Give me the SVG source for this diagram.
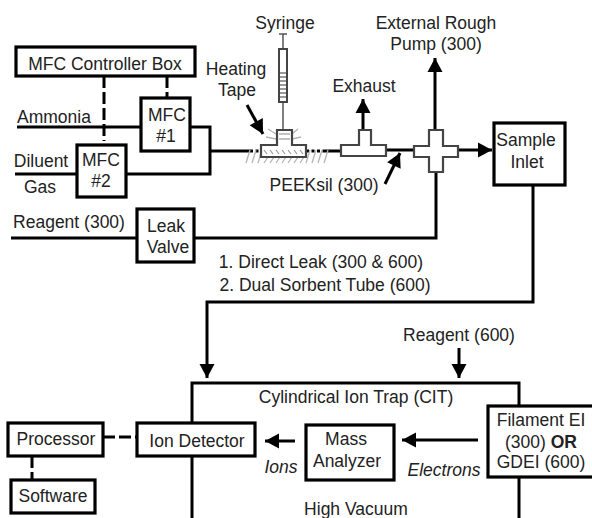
<svg xmlns="http://www.w3.org/2000/svg" width="592" height="518" viewBox="0 0 592 518">
<defs>
<marker id="ah" markerUnits="userSpaceOnUse" markerWidth="16" markerHeight="16" refX="15" refY="8" orient="auto"><path d="M1 0.5L15 8L1 15.500Z" fill="#000"/></marker>
</defs>
<style>
text{font-family:"Liberation Sans",Arial,sans-serif;font-size:17.5px;fill:#222;text-anchor:middle}
.b{fill:#fff;stroke:#000;stroke-width:3.200}
.l{fill:none;stroke:#000;stroke-width:3}
.d{fill:none;stroke:#000;stroke-width:3;stroke-dasharray:12 4}
.s{fill:none;stroke:#000;stroke-width:3;stroke-dasharray:3 2.500}
.a{marker-end:url(#ah)}
.f{fill:#fff;stroke:#444;stroke-width:2.200}
.g{fill:none;stroke:#b4b4b4;stroke-width:1.300}
.i{font-style:italic}
</style>
<rect width="592" height="518" fill="#fff"/>
<g id="connectors">
<path class="d" d="M104 76V141M167 76V98"/>
<path class="l" d="M17 127H141M15 174H77M190 127H210V174H126M210 151H250M11 238H137M194 238H436V172"/>
<path class="l" d="M386 150H414M325 151H341"/>
<path class="s" d="M250 151H262M306 151H325"/>
<path class="l a" d="M435 130V58"/>
<path class="l a" d="M363 130V99"/>
<path class="l a" d="M458 150H492"/>
<path class="l a" d="M385 184L400 153"/>
<path class="l a" d="M247 105L263 134"/>
<path class="l a" d="M533 185V302H207V378"/>
<path class="l a" d="M459 348V378"/>
<path class="l a" d="M295 441H265"/>
<path class="l a" d="M478 440H402"/>
<path class="d" d="M103 437H137M32 456V480"/>
</g>
<g id="syringe">
<path d="M283 34V130M279 34H287" fill="none" stroke="#555" stroke-width="1.500"/>
<rect x="279" y="49" width="8" height="53" fill="#fff" stroke="#444" stroke-width="2"/>
<path d="M280 73H286M280 77H286M280 81H286M280 85H286M280 89H286M280 93H286M280 97H286" stroke="#777" stroke-width="1.500"/>
<path class="g" d="M246 163L250 150M252 163L256 150M258 163L262 150M264 163L268 157M270 163L274 157M276 163L280 157M282 163L286 157M288 163L292 157M294 163L298 157M300 163L304 157M306 163L310 150M312 163L316 150M318 163L322 150M324 163L328 150M268 129L276 134M266 137L276 139M298 129L292 134M301 137L292 139"/>
<path class="f" d="M261 145H277V130H292V145H306V157H261Z"/>
<path d="M264 150L267 154M270 150L273 154M276 150L279 154M282 150L285 154M288 150L291 154M294 150L297 154M300 150L303 154" stroke="#999" stroke-width="1.200"/>
<path d="M279 134H290M279 139H290" stroke="#888" stroke-width="1.200"/>
</g>
<g id="mfc-box"><rect class="b" x="16" y="47" width="179" height="29"/><text x="105" y="70">MFC Controller Box</text></g>
<g id="mfc1"><rect class="b" x="141" y="98" width="49" height="53"/><text x="167" y="121">MFC</text><text x="166" y="142">#1</text></g>
<g id="mfc2"><rect class="b" x="77" y="145" width="49" height="52"/><text x="101" y="166">MFC</text><text x="101" y="187">#2</text></g>
<g id="leak"><rect class="b" x="137" y="209" width="57" height="53"/><text x="166" y="232">Leak</text><text x="168" y="253">Valve</text></g>
<g id="tee"><path class="f" d="M341 145H359V130H371V145H386V156H341Z"/></g>
<g id="cross"><path class="f" d="M414 146H429V130H443V146H458V157H443V172H429V157H414Z"/></g>
<g id="inlet"><rect class="b" x="494" y="123" width="71" height="62"/><text x="526" y="146">Sample</text><text x="527" y="168">Inlet</text></g>
<g id="cit"><path class="l" d="M192 518V383H519V518"/></g>
<g id="ion"><rect class="b" x="137" y="423" width="118" height="33"/><text x="197" y="447">Ion Detector</text></g>
<g id="proc"><rect class="b" x="8" y="423" width="95" height="33"/><text x="56" y="445">Processor</text></g>
<g id="soft"><rect class="b" x="11" y="480" width="84" height="33"/><text x="53" y="502">Software</text></g>
<g id="mass"><rect class="b" x="306" y="425" width="88" height="55"/><text x="346" y="445">Mass</text><text x="347" y="467">Analyzer</text></g>
<g id="fil"><rect class="b" x="488" y="406" width="110" height="71"/><text x="541" y="426">Filament EI</text><text x="541" y="448">(300) <tspan font-weight="bold">OR</tspan></text><text x="541" y="468">GDEI (600)</text></g>
<g id="labels">
<text x="285" y="29">Syringe</text>
<text x="236" y="75">Heating</text><text x="237" y="96">Tape</text>
<text x="436" y="29">External Rough</text><text x="436" y="50">Pump (300)</text>
<text x="364" y="92">Exhaust</text>
<text x="54" y="123">Ammonia</text>
<text x="41" y="167">Diluent</text><text x="40" y="193">Gas</text>
<text x="69" y="228">Reagent (300)</text>
<text x="324" y="191">PEEKsil (300)</text>
<text x="321" y="268">1. Direct Leak (300 &amp; 600)</text>
<text x="325" y="291">2. Dual Sorbent Tube (600)</text>
<text x="459" y="341">Reagent (600)</text>
<text x="356" y="403">Cylindrical Ion Trap (CIT)</text>
<text class="i" x="281" y="473">Ions</text>
<text class="i" x="444" y="476">Electrons</text>
<text x="356" y="515">High Vacuum</text>
</g>
</svg>
